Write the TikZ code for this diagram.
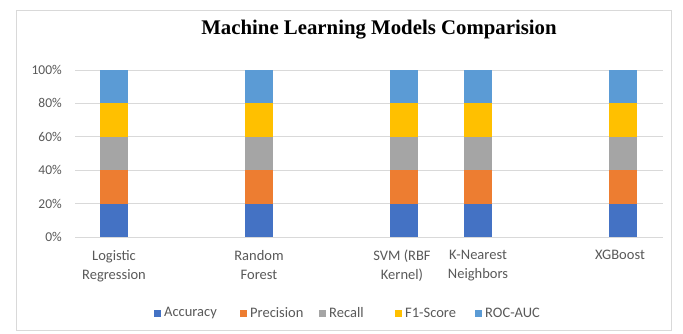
\documentclass[tikz,border=0pt]{standalone}
\usepackage{fontspec}
\setmainfont{Carlito}
\newfontfamily\titlefont{Liberation Serif}
\definecolor{cacc}{HTML}{4472C4}
\definecolor{cpre}{HTML}{ED7D31}
\definecolor{crec}{HTML}{A5A5A5}
\definecolor{cfone}{HTML}{FFC000}
\definecolor{croc}{HTML}{5B9BD5}
\definecolor{txt}{HTML}{595959}
\definecolor{grid}{HTML}{D9D9D9}
\begin{document}
\begin{tikzpicture}[x=1pt,y=-1pt,
  lbl/.style={text=txt,font=\fontsize{14.5}{19}\selectfont,inner sep=0pt},
  ticklbl/.style={text=txt,font=\fontsize{13.5}{16}\selectfont,inner sep=0pt},
  gridline/.style={draw=grid,line width=0.8pt}]
\useasboundingbox (0,0) rectangle (683,334);
\fill[white] (0,0) rectangle (683,334);
\draw[grid,line width=0.8pt] (16,10) rectangle (671,330);
\node[font=\titlefont\bfseries\fontsize{20.8}{22}\selectfont,inner sep=0pt] (title) at (379,30) {Machine Learning Models Comparision};
% gridlines and tick labels
\foreach \i/\t in {0/0\%,1/20\%,2/40\%,3/60\%,4/80\%,5/100\%}{
  \draw[gridline] (75,{237-33.4*\i}) -- (663,{237-33.4*\i});
  \node[ticklbl,anchor=east] (tick\i) at (62,{237-33.4*\i}) {\t};
}
% bars
\foreach \c/\n in {114/lr,259/rf,404/svm,478/knn,623/xgb}{
  \fill[cacc] ({\c-14},237) rectangle ({\c+14},{237-33.4});
  \fill[cpre] ({\c-14},{237-33.4}) rectangle ({\c+14},{237-2*33.4});
  \fill[crec] ({\c-14},{237-2*33.4}) rectangle ({\c+14},{237-3*33.4});
  \fill[cfone] ({\c-14},{237-3*33.4}) rectangle ({\c+14},{237-4*33.4});
  \fill[croc] ({\c-14},{237-4*33.4}) rectangle ({\c+14},{237-5*33.4});
}
% category labels
\node[lbl,align=center,anchor=north] (clr) at (114,250) {Logistic\\Regression};
\node[lbl,align=center,anchor=north] (crf) at (259,250) {Random\\Forest};
\node[lbl,align=center,anchor=north] (csvm) at (402,250) {SVM (RBF\\Kernel)};
\node[lbl,align=center,anchor=north] (cknn) at (478,250) {K-Nearest\\Neighbors};
\node[lbl,align=center,anchor=north] (cxgb) at (620,250) {XGBoost};
% legend
\foreach \x/\col/\t/\n in {157/cacc/Accuracy/la,243/cpre/Precision/lp,322/crec/Recall/lrc,398/cfone/F1-Score/lf,478/croc/ROC-AUC/lroc}{
  \fill[\col] ({\x-3.5},{313-3.5}) rectangle ({\x+3.5},{313+3.5});
  \node[lbl,anchor=west] (\n) at ({\x+7},313) {\t};
}
\end{tikzpicture}
\end{document}
